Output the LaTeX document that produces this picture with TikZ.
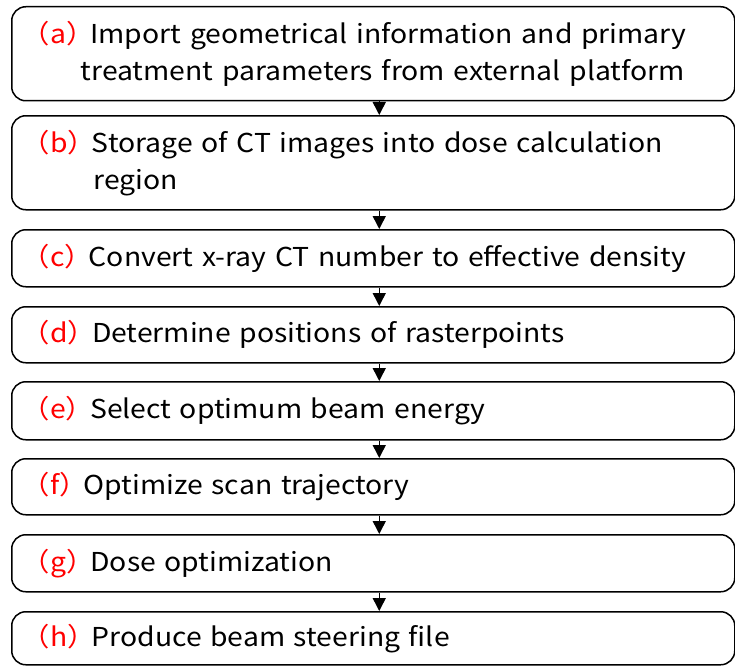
\documentclass[tikz,border=0pt]{standalone}
\usepackage{fontspec}
\setmainfont{Noto Sans CJK JP}[FakeStretch=1.09]
\usetikzlibrary{calc,positioning,arrows.meta}
\tikzset{
  stepbox/.style={
    draw,
    line width=1.5pt,
    rectangle,
    rounded corners=14pt,
    anchor=north west,
    align=left,
    text width=703pt,
    inner xsep=10pt,
    inner ysep=0pt,
    font=\fontsize{26}{37}\selectfont
  },
  steplink/.style={line width=1.5pt,-{Triangle[width=13pt,length=13pt]}}
}
\newcommand{\steplabel}[1]{\textcolor{red}{（#1）}\hspace{-4pt}}

\begin{document}
\begin{tikzpicture}[x=1pt,y=-1pt]

  \useasboundingbox (0,0) rectangle (735,666);

  \node [stepbox, minimum height=94pt] at(11,6)   (step_a) {\steplabel{a}Import geometrical information and primary\\\hspace*{59pt}treatment parameters from external platform};
  \node [stepbox, minimum height=94pt] at(11,115) (step_b) {\steplabel{b}Storage of CT images into dose calculation\\\hspace*{72pt}region};
  \node [stepbox, minimum height=57pt] at(11,229) (step_c) {\steplabel{c}Convert x-ray CT number to effective density};
  \node [stepbox, minimum height=56pt] at(11,306) (step_d) {\steplabel{d}Determine positions of rasterpoints};
  \node [stepbox, minimum height=58pt] at(11,381) (step_e) {\steplabel{e}Select optimum beam energy};
  \node [stepbox, minimum height=56pt] at(11,458) (step_f) {\steplabel{f}Optimize scan trajectory};
  \node [stepbox, minimum height=57pt] at(11,534) (step_g) {\steplabel{g}Dose optimization};
  \node [stepbox, minimum height=53pt] at(11,611) (step_h) {\steplabel{h}Produce beam steering file};

  \foreach \s/\t in {a/b,b/c,c/d,d/e,e/f,f/g,g/h}
  {
    \draw[steplink] ([xshift=6pt]step_\s.south) -- ([xshift=6pt]step_\t.north);
  }

\end{tikzpicture}
\end{document}
